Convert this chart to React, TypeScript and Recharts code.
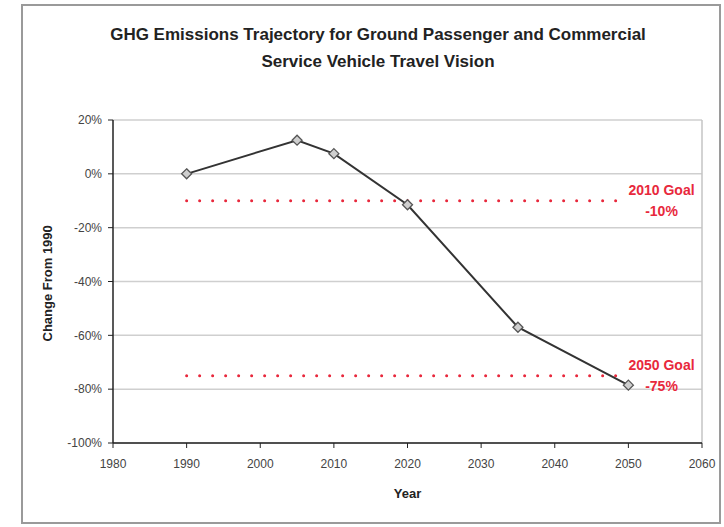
import React from 'react';
import {
  LineChart, Line, XAxis, YAxis, CartesianGrid,
  ReferenceLine, ReferenceDot,
} from 'recharts';

// trajectory (% change from 1990)
const years = [1990, 2005, 2010, 2020, 2035, 2050];
const change = [0, 12.5, 7.5, -11.5, -57, -78.5];

const xTicks = [1980, 1990, 2000, 2010, 2020, 2030, 2040, 2050, 2060];
const yTicks = [-100, -80, -60, -40, -20, 0, 20];

// goal lines: start / end year, value, label lines
const goalStart = [1990, 1990];
const goalEnd = [2048.5, 2048.5];
const goalValue = [-10, -75];
const goalLabelX = [2054.5, 2054.5];
const goalLabels = [['2010 Goal', '-10%'], ['2050 Goal', '-75%']];

const data = years.map((y, i) => ({ year: y, change: change[i] }));

const FONT = '"Liberation Sans", Arial, sans-serif';
const RED = '#e8283c';

function Diamond(props: any) {
  const { cx, cy, index } = props;
  if (cx == null || cy == null) return null;
  const r = 5;
  return (
    <polygon
      key={`d-${index}`}
      points={`${cx},${cy - r} ${cx + r},${cy} ${cx},${cy + r} ${cx - r},${cy}`}
      fill="#cfcfcf"
      stroke="#555"
      strokeWidth={1.3}
    />
  );
}

function goalLabel(lines: string[]) {
  return (props: any) => {
    const { viewBox } = props;
    const cx = viewBox.x + (viewBox.width || 0) / 2;
    const cy = viewBox.y + (viewBox.height || 0) / 2;
    return (
      <text x={cx} y={cy} textAnchor="middle" fill={RED}
        fontFamily={FONT} fontWeight="bold" fontSize={14}>
        <tspan x={cx} dy={-6}>{lines[0]}</tspan>
        <tspan x={cx} dy={21}>{lines[1]}</tspan>
      </text>
    );
  };
}

export default function App() {
  return (
    <div style={{ position: 'absolute', left: 0, top: 0, width: 724, height: 527, background: '#fff', fontFamily: FONT }}>
      <div style={{
        position: 'absolute', left: 21, top: 4, width: 700, height: 520,
        border: '2px solid #9a9a9a', boxSizing: 'border-box',
      }} />
      <div style={{
        position: 'absolute', left: 0, width: 756, top: 21, textAlign: 'center',
        fontWeight: 'bold', fontSize: 17, lineHeight: '27px', color: '#222',
      }}>
        GHG Emissions Trajectory for Ground Passenger and Commercial<br />
        Service Vehicle Travel Vision
      </div>
      <div style={{ position: 'absolute', left: 0, top: 0 }}>
        <LineChart width={724} height={527} data={data}
          margin={{ top: 120, right: 22, bottom: 44, left: 33 }}>
          <CartesianGrid vertical={false} stroke="#cfcfcf" strokeWidth={1.5} />
          <XAxis
            dataKey="year" type="number" domain={[1980, 2060]} ticks={xTicks}
            axisLine={{ stroke: '#222', strokeWidth: 1.5 }}
            tickLine={{ stroke: '#222' }} tickSize={5} tickMargin={11}
            tick={{ fontSize: 12, fill: '#444', fontFamily: FONT }}
            height={40}
            label={{ value: 'Year', position: 'insideBottom', offset: -15, fontSize: 13, fontWeight: 'bold', fill: '#222', fontFamily: FONT }}
          />
          <YAxis
            type="number" domain={[-100, 20]} ticks={yTicks}
            tickFormatter={(v: number) => `${v}%`}
            axisLine={{ stroke: '#222', strokeWidth: 1.5 }}
            tickLine={{ stroke: '#222' }} tickSize={5} tickMargin={6}
            tick={{ fontSize: 12, fill: '#444', fontFamily: FONT }}
            width={80}
            label={{ value: 'Change From 1990', angle: -90, position: 'insideLeft', offset: 14, dy: 60, fontSize: 13, fontWeight: 'bold', fill: '#222', fontFamily: FONT }}
          />
          <ReferenceLine x={2060} stroke="#c4c4c4" strokeWidth={1.5} />
          {goalValue.map((v, i) => (
            <ReferenceLine
              key={`g-${i}`}
              segment={[{ x: goalStart[i], y: v }, { x: goalEnd[i], y: v }]}
              stroke={RED} strokeWidth={3} strokeDasharray="0.01 12.99" strokeLinecap="round"
            />
          ))}
          {goalValue.map((v, i) => (
            <ReferenceDot key={`l-${i}`} x={goalLabelX[i]} y={v} r={0}
              fill="none" stroke="none" label={goalLabel(goalLabels[i])} />
          ))}
          <Line
            dataKey="change" type="linear" stroke="#333" strokeWidth={2}
            dot={<Diamond />} activeDot={false} isAnimationActive={false}
          />
        </LineChart>
      </div>
    </div>
  );
}
